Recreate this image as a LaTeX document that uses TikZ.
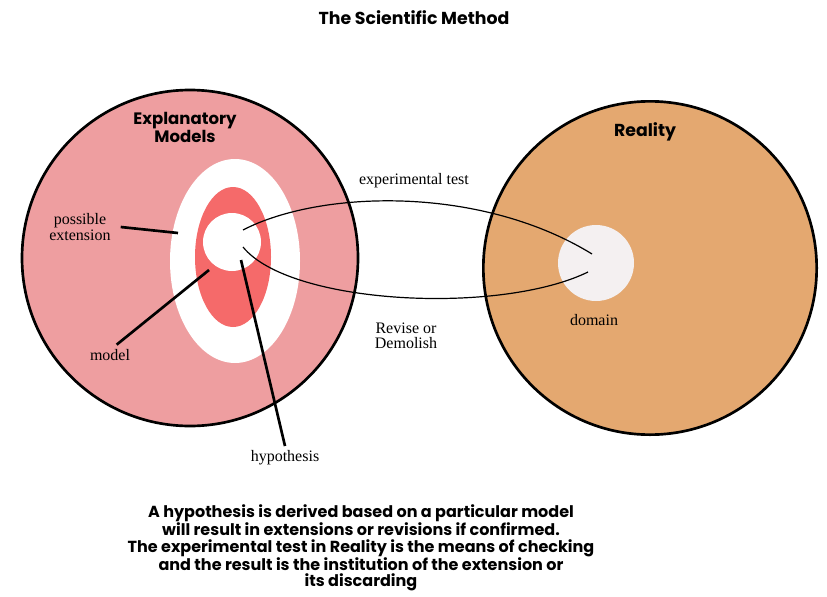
\documentclass[tikz,border=0pt]{standalone}
\usepackage{fontspec}
\setmainfont{Liberation Serif}
\newfontfamily\headfont{Poppins}
\usetikzlibrary{shapes.geometric}
\definecolor{modelpink}{HTML}{EE9EA0}
\definecolor{modelred}{HTML}{F56A6A}
\definecolor{realorange}{HTML}{E4A870}
\definecolor{domaingray}{HTML}{F4F0F1}

\begin{document}
\begin{tikzpicture}[x=0.75pt, y=-0.75pt,
	disc/.style={circle, draw=black, line width=2pt, inner sep=0pt, outer sep=0pt},
	blob/.style={ellipse, inner sep=0pt, outer sep=0pt},
	head/.style={font=\headfont\bfseries\fontsize{12.4}{10}\selectfont, align=center},
	lbl/.style={font=\fontsize{12}{11.5}\selectfont, align=center},
	leader/.style={line width=2pt},
	test/.style={line width=0.9pt}]
	\useasboundingbox (0,0) rectangle (827,596);
	% two worlds: models on the left, reality on the right
	\node[disc, fill=modelpink, minimum size=252pt] (models) at (190,258) {};
	\node[blob, fill=white, minimum width=97.5pt, minimum height=153pt] (ext) at (235,261) {};
	\node[blob, fill=modelred, minimum width=57pt, minimum height=105pt] (mod) at (233,257) {};
	\node[circle, fill=white, inner sep=0pt, minimum size=43.5pt] (hyp) at (232,242) {};
	\node[disc, fill=realorange, minimum size=250pt] (reality) at (650,268) {};
	\node[circle, fill=domaingray, inner sep=0pt, minimum size=57pt] (dom) at (596,263) {};

	\coordinate (extpt) at (178,233);
	\coordinate (modpt) at (209,270);
	\coordinate (hyppt) at (241,260);
	\coordinate (hypout) at (243,230);
	\coordinate (hypin) at (243,247);
	\coordinate (domin) at (592,254);
	\coordinate (domout) at (588,272);

	\node[head, font=\headfont\bfseries\fontsize{13}{12}\selectfont] (title) at (414,18) {The Scientific Method};
	\node[head] (modtitle) at (185,127) {Explanatory\\Models};
	\node[head, font=\headfont\bfseries\fontsize{13}{12}\selectfont] (realtitle) at (645,132) {Reality};
	\node[lbl] (pe) at (80,227) {possible\\extension};
	\node[lbl] (mo) at (110,355) {model};
	\node[lbl] (hy) at (285,458) {hypothesis};
	\node[lbl] (et) at (414,181) {experimental test};
	\node[lbl] (rd) at (406,336) {Revise or\\Demolish};
	\node[lbl] (do) at (594,320) {domain};

	\draw[leader] ([xshift=4pt]pe.east) -- (extpt);
	\draw[leader] ([xshift=5pt]mo.north) -- (modpt);
	\draw[leader] (hy.north) -- (hyppt);
	\draw[test] (hypout) .. controls (320,190) and (480,185) .. (domin);
	\draw[test] (hypin) .. controls (290,305) and (500,315) .. (domout);

	\node[head, font=\headfont\bfseries\fontsize{12}{12.2}\selectfont] (summary) at (361,548)
		{A hypothesis is derived based on a particular model\\
		will result in extensions or revisions if confirmed.\\
		The experimental test in Reality is the means of checking\\
		and the result is the institution of the extension or\\
		its discarding};
\end{tikzpicture}
\end{document}
